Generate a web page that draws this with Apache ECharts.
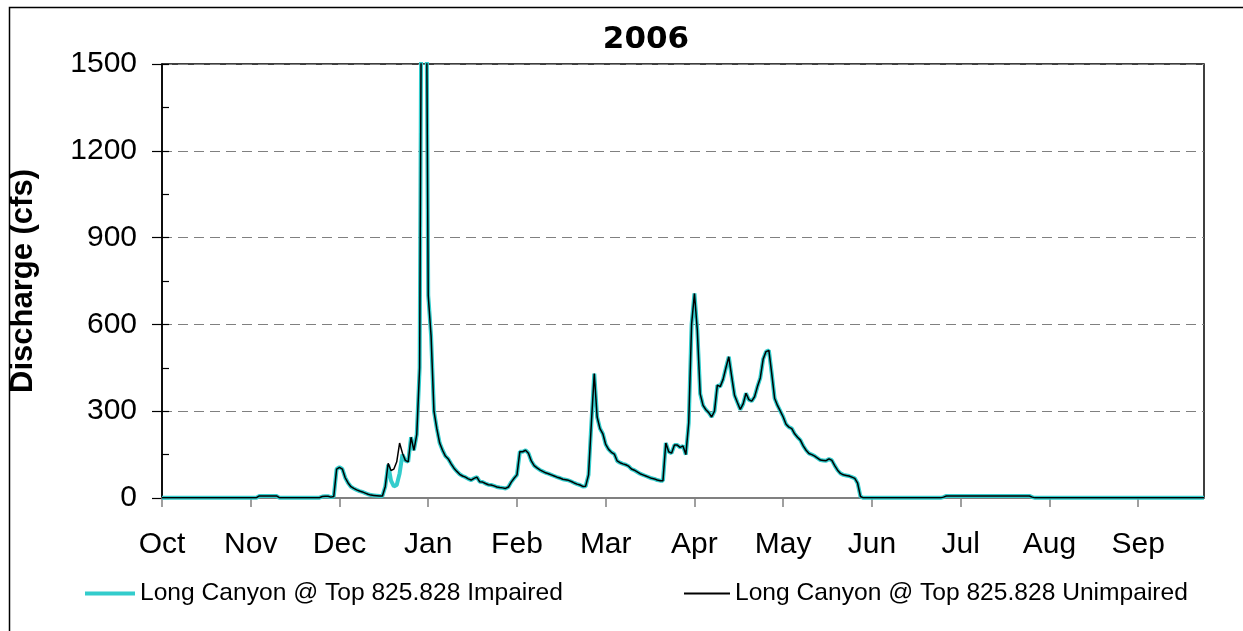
<!DOCTYPE html>
<html>
<head>
<meta charset="utf-8">
<script src="https://cdn.jsdelivr.net/npm/echarts@6/dist/echarts.min.js"></script>
<style>
html,body{margin:0;padding:0;background:#fff;}
#chart{width:1243px;height:631px;}
</style>
</head>
<body>
<div id="chart"></div>
<script>
// Daily discharge (cfs), water year Oct 2005 - Sep 2006
var titleText = '2006';
var yAxisName = 'Discharge (cfs)';
var seriesNames = ['Long Canyon @ Top 825.828 Impaired', 'Long Canyon @ Top 825.828 Unimpaired'];
var monthNames = ['Jan','Feb','Mar','Apr','May','Jun','Jul','Aug','Sep','Oct','Nov','Dec'];
var startDate = [2005, 9, 1]; // Oct 1, 2005
var dayCount = 365;

var octQ = [1,1,1,1,1,1,1,1,1,1,1,1,1,1,1,1,1,1,1,1,1,1,1,1,1,1,1,1,1,1,1];
var novQ = [1,1,1,7,7,7,7,7,7,7,1,1,1,1,1,1,1,1,1,1,1,1,1,1,1,5,6,6,3,5];
var decQ = [100,106,100,70,52,39,33,28,24,21,17,13,10,9,8,7,7,40,120,95,100,125,190,155,130,125,210,165,220,450,2600];
var decImpairedQ = [100,106,100,70,52,39,33,28,24,21,17,13,10,9,8,7,7,40,115,60,40,45,85,150,130,125,210,165,220,450,2600];
var janQ = [2400,700,560,300,240,190,165,145,135,118,103,92,82,76,72,66,62,68,72,56,55,50,46,45,42,38,36,35,33,38,55];
var febQ = [68,80,160,160,165,155,128,112,104,97,92,87,84,80,76,72,69,65,63,61,57,52,48,45,40,41,80,260];
var marQ = [430,280,240,222,185,168,158,152,128,122,118,115,110,100,96,90,84,80,76,72,68,66,62,60,60,190,160,155,183,183,175];
var aprQ = [180,150,260,600,707,580,360,320,305,295,280,300,390,385,410,450,488,420,355,330,306,325,362,340,335,350,385,415,480,506];
var mayQ = [510,430,345,320,300,280,255,245,240,222,210,200,180,165,154,150,145,138,131,130,129,135,130,112,96,85,80,78,76,72,68];
var junQ = [51,5,0.5,0.5,0.5,0.5,0.5,0.5,0.5,0.5,0.5,0.5,0.5,0.5,0.5,0.5,0.5,0.5,0.5,0.5,0.5,0.5,0.5,0.5,0.5,0.5,0.5,0.5,0.5,0.5];
var julQ = [3,7,7,7,7,7,7,7,7,7,7,7,7,7,7,7,7,7,7,7,7,7,7,7,7,7,7,7,7,7,7];
var augQ = [3,0.5,0.5,0.5,0.5,0.5,0.5,0.5,0.5,0.5,0.5,0.5,0.5,0.5,0.5,0.5,0.5,0.5,0.5,0.5,0.5,0.5,0.5,0.5,0.5,0.5,0.5,0.5,0.5,0.5,0.5];
var sepQ = [0.5,0.5,0.5,0.5,0.5,0.5,0.5,0.5,0.5,0.5,0.5,0.5,0.5,0.5,0.5,0.5,0.5,0.5,0.5,0.5,0.5,0.5,0.5,0.5,0.5,0.5,0.5,0.5,0.5,0.5];

var unimpaired = [].concat(octQ, novQ, decQ, janQ, febQ, marQ, aprQ, mayQ, junQ, julQ, augQ, sepQ);
var impaired = [].concat(octQ, novQ, decImpairedQ, janQ, febQ, marQ, aprQ, mayQ, junQ, julQ, augQ, sepQ);

var dates = [];
for (var i = 0; i < dayCount; i++) {
  var d = new Date(startDate[0], startDate[1], startDate[2] + i);
  dates.push(d.getFullYear() + '-' + (d.getMonth() + 1) + '-' + d.getDate());
}

var FONT = "'Liberation Sans', Arial, sans-serif";
var chart = echarts.init(document.getElementById('chart'));
chart.setOption({
  animation: false,
  backgroundColor: '#fff',
  textStyle: { fontFamily: FONT },
  title: {
    text: titleText, left: 641, top: 19, textAlign: 'center',
    textStyle: { fontFamily: "'DejaVu Sans', sans-serif", fontSize: 31, fontWeight: 'bold', color: '#000' }
  },
  graphic: [{
    type: 'rect', left: 7, top: 5, shape: { width: 1260, height: 660 },
    style: { fill: 'none', stroke: '#000', lineWidth: 1.5 }, silent: true, z: -1
  }],
  legend: [{
    data: [{ name: seriesNames[0], icon: 'rect' }], left: 80, top: 576, itemWidth: 50, itemHeight: 4,
    textStyle: { fontFamily: FONT, fontSize: 24.6, color: '#000' }
  }, {
    data: [{ name: seriesNames[1], icon: 'rect' }], left: 679, top: 576, itemWidth: 46, itemHeight: 2,
    textStyle: { fontFamily: FONT, fontSize: 24.6, color: '#000' }
  }],
  grid: { left: 161, right: 39, top: 64, bottom: 133, show: true, borderColor: '#000', borderWidth: 1.5, backgroundColor: 'transparent' },
  xAxis: {
    type: 'category', data: dates, boundaryGap: false,
    axisLine: { lineStyle: { color: '#808080', width: 2 } },
    axisTick: { interval: 30, length: 9, lineStyle: { color: '#808080', width: 1.5 } },
    axisLabel: {
      interval: 30, margin: 32, fontSize: 30, color: '#000', fontFamily: FONT,
      formatter: function (v) { var m = parseInt(v.split('-')[1], 10); return monthNames[m - 1]; }
    },
    splitLine: { show: false }
  },
  yAxis: [{
    type: 'value', min: 0, max: 1500, interval: 300, position: 'left',
    name: yAxisName, nameLocation: 'middle', nameRotate: 90, nameGap: 123,
    nameTextStyle: { fontFamily: FONT, fontSize: 31, fontWeight: 'bold', color: '#000' },
    axisLine: { show: true, lineStyle: { color: '#000', width: 1.5 } },
    axisTick: { show: true, length: 10, lineStyle: { color: '#000', width: 1.2 } },
    axisLabel: { fontSize: 30, color: '#000', margin: 25, fontFamily: FONT, formatter: function (v) { return String(v); } },
    splitLine: { show: true, lineStyle: { color: '#808080', type: [10, 6], width: 1.2 } }
  }, {
    type: 'value', min: 0, max: 1500, interval: 300, position: 'left',
    axisLine: { show: false },
    axisTick: { show: true, inside: true, length: 7, lineStyle: { color: '#000', width: 1.2 } },
    minorTick: { show: true, splitNumber: 2, length: 7, lineStyle: { color: '#000', width: 1.2 } },
    axisLabel: { show: false },
    splitLine: { show: false }
  }],
  series: [{
    name: seriesNames[0], type: 'line', data: impaired, yAxisIndex: 0,
    symbol: 'none', color: '#33CCCC', lineStyle: { color: '#33CCCC', width: 4 }, z: 2
  }, {
    name: seriesNames[1], type: 'line', data: unimpaired, yAxisIndex: 0,
    symbol: 'none', color: '#000', lineStyle: { color: '#000', width: 1.5 }, z: 3
  }]
});
</script>
</body>
</html>
